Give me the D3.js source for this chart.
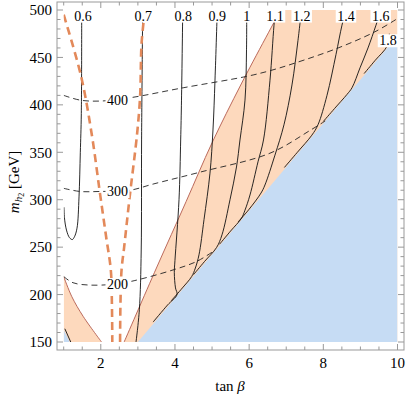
<!DOCTYPE html>
<html>
<head>
<meta charset="utf-8">
<script src="https://cdn.jsdelivr.net/npm/d3@7"></script>
<style>
body { margin: 0; background: #fff; }
text { font-family: "Liberation Serif", "Times New Roman", serif; fill: #000; }
</style>
</head>
<body>
<svg id="chart" width="407" height="396"></svg>
<script>
// axis ticks
var xMajor = [2, 4, 6, 8, 10];
var yMajor = [150, 200, 250, 300, 350, 400, 450, 500];

// regions (tan beta, m_h2)
var blueRegion = [[3.0, 150], [10, 472.7], [10, 150]];
var blueCorner = [[1, 150], [1, 163], [1.16, 150]];
var bandEdge = [[2.63, 150], [3.5, 228], [4.3, 298], [5.0, 360], [5.8, 423], [6.85, 500]];
var cornerEdge = [[1, 219], [1.22, 197.7], [1.53, 176.7], [2.02, 150]];

// orange dashed curves
var dashLeft = [[1.0, 495], [1.47, 430], [1.76, 368], [1.97, 309], [2.14, 262], [2.27, 226], [2.30, 190], [2.31, 150]];
var dashRight = [[3.19, 500], [3.10, 465], [3.06, 409], [2.98, 370], [2.77, 300], [2.63, 250], [2.56, 226], [2.53, 190], [2.52, 150]];

// black dashed mass contours
var m400 = [[1, 410], [1.44, 405], [1.98, 404], [2.79, 407.5], [4.22, 418], [5.93, 430], [6.56, 436], [7.23, 444], [8.40, 460], [9.39, 477], [10, 491]];
var m300 = [[1, 312], [1.44, 308.7], [1.98, 308.7], [2.79, 310], [3.41, 316.5], [4.67, 329], [6.56, 349], [7.64, 373], [8.05, 383]];
var m200 = [[1, 219], [1.25, 212.5], [1.71, 210], [2.38, 211], [2.83, 214], [3.95, 226], [4.59, 235], [5.05, 246]];
var massLabels = [["400", 2.45, 405.5], ["300", 2.45, 309], ["200", 2.45, 211]];

// solid contours
var c06 = [[1.485, 500], [1.475, 391], [1.448, 350], [1.413, 303], [1.359, 270], [1.291, 261], [1.232, 258], [1.156, 260], [1.075, 268], [1.02, 281], [1.008, 292]];
var c06b = [[1.03, 164], [1.19, 150]];
var c07 = [[3.13, 500], [3.10, 363], [3.09, 247], [3.04, 184], [2.95, 150]];
var c08 = [[4.21, 500], [4.176, 405], [4.154, 363], [4.109, 300], [4.0, 236], [3.982, 223], [4.014, 207], [4.055, 200], [3.8, 189], [3.41, 171]];
var c09 = [[5.141, 500], [5.079, 426], [5.025, 373.5], [4.944, 328], [4.783, 279], [4.648, 242], [4.55, 228], [4.45, 219], [4.2, 207], [3.9, 193.5]];
var c10 = [[5.934, 500], [5.929, 458], [5.888, 405], [5.753, 363], [5.659, 334.5], [5.484, 300], [5.268, 263], [5.12, 249.5], [4.8, 235], [4.5, 221]];
var c11 = [[6.71, 500], [6.67, 484], [6.562, 426], [6.387, 363], [6.239, 340], [6.023, 305], [5.888, 289], [5.794, 280.5], [5.5, 267], [5.2, 253]];
var c12 = [[7.411, 500], [7.317, 468], [7.155, 421], [6.939, 379], [6.696, 347], [6.426, 315.5], [6.319, 307], [6.0, 290], [5.7, 276.5]];
var c14 = [[8.611, 500], [8.503, 484], [8.341, 453], [8.099, 410], [7.856, 379], [7.69, 368], [7.3, 350], [6.95, 334]];
var c16 = [[9.555, 500], [9.42, 484], [9.205, 460], [8.989, 439], [8.773, 418], [8.638, 411], [8.3, 396], [8.0, 382.5]];
var c18 = [[9.78, 475], [9.72, 462], [9.4, 447], [9.1, 433]];
var contours = [c06, c06b, c07, c08, c09, c10, c11, c12, c14, c16, c18];
var contourLabels = [["0.6", 1.52, 494], ["0.7", 3.146, 494], ["0.8", 4.225, 494], ["0.9", 5.141, 494], ["1", 5.934, 494],
  ["1.1", 6.697, 494], ["1.2", 7.417, 494], ["1.4", 8.611, 494], ["1.6", 9.547, 494], ["1.8", 9.744, 468]];

var svg = d3.select("#chart");
var x = d3.scaleLinear().domain([1, 10]).range([63.7, 397.5]);
var y = d3.scaleLinear().domain([150, 500]).range([342, 10]);

var fl = 57, fr = 404, ft = 2, fb = 350;

svg.append("clipPath").attr("id", "clip")
  .append("rect").attr("x", x(1)).attr("y", y(500)).attr("width", x(10) - x(1)).attr("height", y(150) - y(500));

var plot = svg.append("g").attr("clip-path", "url(#clip)");

var line = d3.line().x(function(d) { return x(d[0]); }).y(function(d) { return y(d[1]); });
var smooth = d3.line().x(function(d) { return x(d[0]); }).y(function(d) { return y(d[1]); }).curve(d3.curveCatmullRom);

// orange band
plot.append("path")
  .attr("d", smooth(bandEdge) + "L" + x(10) + "," + y(500) + "L" + x(10) + "," + y(150) + "Z")
  .attr("fill", "#fdd9bd");
plot.append("path")
  .attr("d", smooth(cornerEdge) + "L" + x(1) + "," + y(150) + "Z")
  .attr("fill", "#fdd9bd");

// blue region
plot.append("path").attr("d", line(blueRegion) + "Z").attr("fill", "#c6dcf4");
plot.append("path").attr("d", line(blueCorner) + "Z").attr("fill", "#c6dcf4");

// region edges
plot.selectAll(".edge").data([bandEdge, cornerEdge]).enter().append("path")
  .attr("d", smooth).attr("fill", "none").attr("stroke", "#bb6a5c").attr("stroke-width", 1);

// solid contours
plot.selectAll(".cont").data(contours).enter().append("path")
  .attr("d", smooth).attr("fill", "none").attr("stroke", "#111").attr("stroke-width", 0.9);

// dashed mass lines
plot.selectAll(".mass").data([m400, m300, m200]).enter().append("path")
  .attr("d", smooth).attr("fill", "none").attr("stroke", "#222").attr("stroke-width", 0.9)
  .attr("stroke-dasharray", "6,4");

// orange dashed
plot.selectAll(".od").data([dashLeft, dashRight]).enter().append("path")
  .attr("d", smooth).attr("fill", "none").attr("stroke", "#e3895a").attr("stroke-width", 2.6)
  .attr("stroke-dasharray", "8,5");

// labels with white boxes
function boxLabel(d) {
  var g = svg.append("g");
  var t = g.append("text").attr("x", x(d[1])).attr("y", y(d[2])).attr("dy", "0.35em")
    .attr("text-anchor", "middle").attr("font-size", 14).text(d[0]);
  var b = t.node().getBBox();
  g.insert("rect", "text").attr("x", b.x - 1.5).attr("y", b.y + 1).attr("width", b.width + 3).attr("height", b.height - 2)
    .attr("fill", "#fff");
}
massLabels.forEach(boxLabel);
contourLabels.forEach(boxLabel);

// frame
svg.append("rect").attr("x", fl).attr("y", ft).attr("width", fr - fl).attr("height", fb - ft)
  .attr("fill", "none").attr("stroke", "#999").attr("stroke-width", 1);

var xMinor = d3.range(1, 10.01, 0.5);
var yMinor = d3.range(150, 500.1, 10);
var tk = svg.append("g").attr("stroke", "#999").attr("stroke-width", 1);
xMinor.forEach(function(v) {
  var len = xMajor.indexOf(v) >= 0 ? 6 : 3.5;
  tk.append("line").attr("x1", x(v)).attr("x2", x(v)).attr("y1", fb).attr("y2", fb - len);
  tk.append("line").attr("x1", x(v)).attr("x2", x(v)).attr("y1", ft).attr("y2", ft + len);
});
yMinor.forEach(function(v) {
  var len = yMajor.indexOf(v) >= 0 ? 6 : 3.5;
  tk.append("line").attr("y1", y(v)).attr("y2", y(v)).attr("x1", fl).attr("x2", fl + len);
  tk.append("line").attr("y1", y(v)).attr("y2", y(v)).attr("x1", fr).attr("x2", fr - len);
});

svg.selectAll(".xl").data(xMajor).enter().append("text")
  .attr("x", function(d) { return x(d); }).attr("y", 368).attr("text-anchor", "middle")
  .attr("font-size", 15).text(function(d) { return d; });
svg.selectAll(".yl").data(yMajor).enter().append("text")
  .attr("x", 52).attr("y", function(d) { return y(d); }).attr("dy", "0.35em").attr("text-anchor", "end")
  .attr("font-size", 15).text(function(d) { return d; });

// axis titles
var xt = svg.append("text").attr("x", 230).attr("y", 391).attr("text-anchor", "middle").attr("font-size", 15);
xt.append("tspan").text("tan ");
xt.append("tspan").attr("font-style", "italic").text("β");

var yt = svg.append("text").attr("transform", "translate(19,182) rotate(-90)").attr("text-anchor", "middle").attr("font-size", 15);
yt.append("tspan").attr("font-style", "italic").text("m");
yt.append("tspan").attr("font-style", "italic").attr("font-size", 11).attr("dy", 3).text("h");
yt.append("tspan").attr("font-size", 8).attr("dy", 2).text("2");
yt.append("tspan").attr("dy", -5).text(" [GeV]");
</script>
</body>
</html>
